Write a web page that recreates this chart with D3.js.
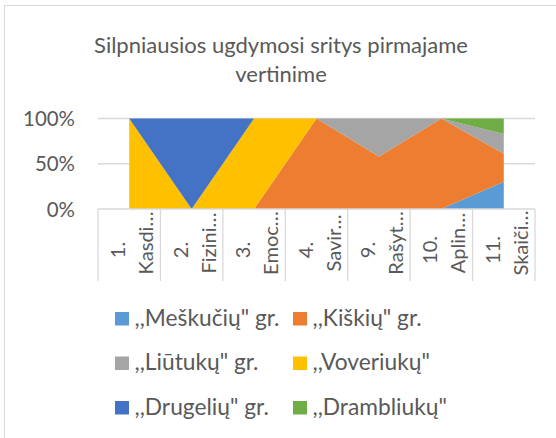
<!DOCTYPE html>
<html><head><meta charset="utf-8">
<script src="https://cdn.jsdelivr.net/npm/d3@7"></script>
<style>body{margin:0;background:#fff;overflow:hidden}</style>
</head><body><svg id="c" width="556" height="438"></svg>
<script>
// ---- data ----
const catNumbers = ["1.", "2.", "3.", "4.", "9.", "10.", "11."];
const catNames = ["Kasdi…", "Fizini…", "Emoc…", "Savir…", "Rašyt…", "Aplin…", "Skaiči…"];
const seriesNames = [",,Meškučių\" gr.", ",,Kiškių\" gr.", ",,Liūtukų\" gr.", ",,Voveriukų\"", ",,Drugelių\" gr.", ",,Drambliukų\""];
const meskuciu   = [0, 0, 0, 0, 0, 0, 30];
const kiskiu     = [0, 0, 0, 100, 58, 100, 31];
const liutuku    = [0, 0, 0, 0, 42, 0, 22];
const voveriuku  = [100, 0, 100, 0, 0, 0, 0];
const drugeliu   = [0, 100, 0, 0, 0, 0, 0];
const drambliuku = [0, 0, 0, 0, 0, 0, 17];
const yTicks = [0, 50, 100];
const yTickLabels = ["0%", "50%", "100%"];
const titleLines = ["Silpniausios ugdymosi sritys pirmajame", "vertinime"];

const seriesValues = [meskuciu, kiskiu, liutuku, voveriuku, drugeliu, drambliuku];
const colors = ["#5B9BD5", "#ED7D31", "#A5A5A5", "#FFC000", "#4472C4", "#70AD47"];
const FONT = "Lato, 'Noto Sans', sans-serif";
const TXT = "#595959";

const svg = d3.select("#c");
svg.append("rect").attr("x", 4.5).attr("y", 5.5).attr("width", 600).attr("height", 500)
  .attr("fill", "#fff").attr("stroke", "#d9d9d9").attr("stroke-width", 1);

function fit(sel, target) {
  const w = sel.node().getComputedTextLength();
  const fs = parseFloat(sel.attr("font-size"));
  const nfs = fs * target / w;
  sel.attr("font-size", nfs);
  return nfs;
}

// title
const t1 = svg.append("text").attr("x", 281).attr("y", 53).attr("text-anchor", "middle")
  .attr("font-family", FONT).attr("font-size", 22).attr("fill", TXT).text(titleLines[0]);
const tfs = fit(t1, 374);
svg.append("text").attr("x", 281).attr("y", 82).attr("text-anchor", "middle")
  .attr("font-family", FONT).attr("font-size", tfs).attr("fill", TXT).text(titleLines[1]);

// scales
const cats = catNumbers.map((n, i) => n + " " + catNames[i]);
const x = d3.scaleBand().domain(cats).range([98, 535]);
const xc = c => x(c) + x.bandwidth() / 2;
const y = d3.scaleLinear().domain([0, 100]).range([209, 118.5]);

// gridlines
svg.append("g").selectAll("line").data(yTicks.filter(v => v > 0)).join("line")
  .attr("x1", 98).attr("x2", 535).attr("y1", d => y(d)).attr("y2", d => y(d))
  .attr("stroke", "#d9d9d9").attr("stroke-width", 1.3);

// stacked areas
const rows = cats.map((c, i) => {
  const r = { cat: c };
  seriesNames.forEach((s, k) => r[s] = seriesValues[k][i]);
  return r;
});
const stack = d3.stack().keys(seriesNames)(rows);
const area = d3.area().x(d => xc(d.data.cat)).y0(d => y(d[0])).y1(d => y(d[1]));
svg.append("g").selectAll("path").data(stack).join("path")
  .attr("d", area).attr("fill", (d, i) => colors[i]);

// x axis line and ticks
const ax = svg.append("g");
ax.append("line").attr("x1", 98).attr("x2", 535).attr("y1", y(0)).attr("y2", y(0))
  .attr("stroke", "#d9d9d9").attr("stroke-width", 1.3);
const edges = cats.map(c => x(c)).concat([x(cats[cats.length - 1]) + x.bandwidth()]);
ax.selectAll("line.tk").data(edges).join("line").attr("class", "tk")
  .attr("x1", d => d).attr("x2", d => d).attr("y1", y(0)).attr("y2", 281)
  .attr("stroke", "#d9d9d9").attr("stroke-width", 1.3);

// category labels (rotated)
const probe = svg.append("text").attr("font-family", FONT).attr("font-size", 20).text(catNames[0]);
const cfs = fit(probe, 63);
probe.remove();
cats.forEach((c, i) => {
  svg.append("text").attr("transform", `translate(${xc(c) - 4},250) rotate(-90)`)
    .attr("text-anchor", "middle").attr("font-family", FONT).attr("font-size", cfs)
    .attr("fill", TXT).text(catNumbers[i]);
  svg.append("text").attr("transform", `translate(${xc(c) + 24},243) rotate(-90)`)
    .attr("text-anchor", "middle").attr("font-family", FONT).attr("font-size", cfs)
    .attr("fill", TXT).text(catNames[i]);
});

// y labels
const yp = svg.append("text").attr("font-family", FONT).attr("font-size", 20).text(yTickLabels[2]);
const yfs = fit(yp, 52);
yp.remove();
svg.append("g").selectAll("text").data(yTicks).join("text")
  .attr("x", 75).attr("y", d => y(d) + 7.5).attr("text-anchor", "end")
  .attr("font-family", FONT).attr("font-size", yfs).attr("fill", TXT)
  .text((d, i) => yTickLabels[i]);

// legend
const lp = svg.append("text").attr("font-family", FONT).attr("font-size", 20).text(seriesNames[0]);
const lfs = fit(lp, 145);
lp.remove();
const legX = [115, 293], legY = [312, 356.5, 401];
seriesNames.forEach((s, i) => {
  const cx = legX[i % 2], cy = legY[Math.floor(i / 2)];
  svg.append("rect").attr("x", cx).attr("y", cy).attr("width", 14).attr("height", 13.5).attr("fill", colors[i]);
  svg.append("text").attr("x", cx + 19.5).attr("y", cy + 13.5).attr("font-family", FONT)
    .attr("font-size", lfs).attr("fill", TXT).text(s);
});
</script></body></html>
